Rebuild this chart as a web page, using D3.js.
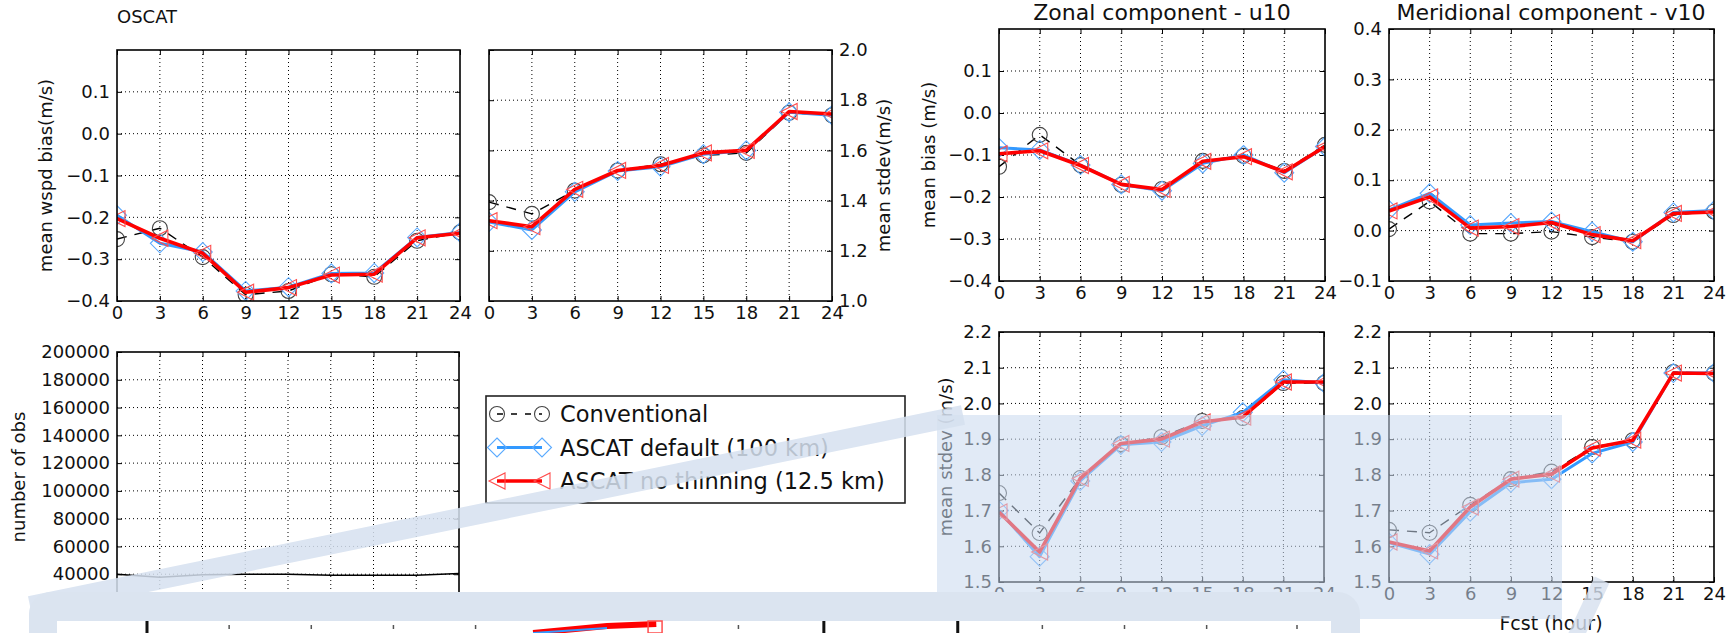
<!DOCTYPE html>
<html>
<head>
<meta charset="utf-8">
<script src="https://cdn.jsdelivr.net/npm/d3@7"></script>
<style>
  body { margin: 0; background: #fff; }
  svg { display: block; font-family: "DejaVu Sans", sans-serif; }
</style>
</head>
<body>
<div id="fig"></div>
<script>
const W = 1735, H = 633;

// forecast hours (x axis of every panel)
const hours = [0, 3, 6, 9, 12, 15, 18, 21, 24];
const seriesNames = ["Conventional", "ASCAT default (100 km)", "ASCAT no thinning (12.5 km)"];

// OSCAT wind speed
const wspdBiasConv    = [-0.252, -0.226, -0.295, -0.385, -0.376, -0.336, -0.342, -0.256, -0.236];
const wspdBiasDefault = [-0.195, -0.262, -0.283, -0.376, -0.367, -0.334, -0.333, -0.248, -0.236];
const wspdBiasNoThin  = [-0.203, -0.250, -0.286, -0.379, -0.368, -0.338, -0.336, -0.249, -0.238];
const wspdStdConv     = [1.394, 1.347, 1.440, 1.520, 1.545, 1.580, 1.590, 1.750, 1.740];
const wspdStdDefault  = [1.315, 1.283, 1.435, 1.518, 1.535, 1.585, 1.600, 1.752, 1.740];
const wspdStdNoThin   = [1.320, 1.296, 1.445, 1.520, 1.540, 1.590, 1.600, 1.755, 1.745];
const obsCount        = [40000, 37800, 39600, 40000, 40000, 39300, 39300, 39300, 40600];

// zonal component u10
const u10BiasConv    = [-0.128, -0.052, -0.124, -0.171, -0.181, -0.114, -0.102, -0.138, -0.076];
const u10BiasDefault = [-0.083, -0.088, -0.124, -0.170, -0.185, -0.120, -0.100, -0.142, -0.080];
const u10BiasNoThin  = [-0.097, -0.090, -0.125, -0.170, -0.182, -0.115, -0.104, -0.140, -0.080];
const u10StdConv     = [1.749, 1.637, 1.791, 1.886, 1.906, 1.951, 1.959, 2.057, 2.057];
const u10StdDefault  = [1.700, 1.571, 1.783, 1.884, 1.892, 1.937, 1.975, 2.066, 2.057];
const u10StdNoThin   = [1.696, 1.584, 1.790, 1.888, 1.900, 1.948, 1.962, 2.060, 2.060];

// meridional component v10
const v10BiasConv    = [0.003, 0.058, -0.006, -0.006, -0.002, -0.013, -0.022, 0.031, 0.038];
const v10BiasDefault = [0.041, 0.074, 0.011, 0.015, 0.018, -0.002, -0.022, 0.036, 0.040];
const v10BiasNoThin  = [0.039, 0.067, 0.005, 0.008, 0.016, -0.008, -0.020, 0.034, 0.037];
const v10StdConv     = [1.646, 1.638, 1.716, 1.788, 1.809, 1.878, 1.897, 2.088, 2.085];
const v10StdDefault  = [1.610, 1.578, 1.697, 1.778, 1.788, 1.860, 1.892, 2.085, 2.085];
const v10StdNoThin   = [1.612, 1.587, 1.710, 1.788, 1.802, 1.875, 1.897, 2.085, 2.084];

// tick labels
const biasTicks    = [-0.4, -0.3, -0.2, -0.1, 0.0, 0.1];
const wspdStdTicks = [1.0, 1.2, 1.4, 1.6, 1.8, 2.0];
const v10BiasTicks = [-0.1, 0.0, 0.1, 0.2, 0.3, 0.4];
const stdTicks     = [1.5, 1.6, 1.7, 1.8, 1.9, 2.0, 2.1, 2.2];
const obsTicks     = [20000, 40000, 60000, 80000, 100000, 120000, 140000, 160000, 180000, 200000];

const styles = [
  { line: "#000", width: 1.4, dash: "10,8", marker: "circle", mstroke: "#444" },
  { line: "#3399ff", width: 3, dash: null, marker: "diamond", mstroke: "#5aaaff" },
  { line: "#ff0000", width: 3.6, dash: null, marker: "tri", mstroke: "#ff4d4d" }
];

const svg = d3.select("#fig").append("svg").attr("width", W).attr("height", H);
const defs = svg.append("defs");
let clipCount = 0;
const fmt1 = d3.format(".1f");

function markerPath(kind) {
  if (kind === "diamond") return "M0,-9.5L9.5,0L0,9.5L-9.5,0Z";
  if (kind === "tri") return "M-8,0L8,-8L8,8Z";
  return null;
}

function drawMarkers(g, pts, st) {
  if (st.marker === "circle") {
    g.selectAll(null).data(pts).join("circle")
      .attr("cx", d => d[0]).attr("cy", d => d[1]).attr("r", 7.5)
      .attr("fill", "none").attr("stroke", st.mstroke).attr("stroke-width", 1.1);
  } else {
    g.selectAll(null).data(pts).join("path")
      .attr("transform", d => `translate(${d[0]},${d[1]})`)
      .attr("d", markerPath(st.marker))
      .attr("fill", "none").attr("stroke", st.mstroke).attr("stroke-width", 1.1);
  }
}

function panel(p) {
  const g = svg.append("g");
  const x = d3.scaleLinear().domain([0, 24]).range([p.x0, p.x1]);
  const y = d3.scaleLinear().domain(p.yDomain).range([p.y1, p.y0]);
  const id = "clip" + (clipCount++);
  defs.append("clipPath").attr("id", id).append("rect")
    .attr("x", p.x0).attr("y", p.y0).attr("width", p.x1 - p.x0).attr("height", p.y1 - p.y0);

  // dotted grid
  const grid = g.append("g").attr("stroke", "#000").attr("stroke-width", 1).attr("stroke-dasharray", "1,3");
  grid.selectAll(null).data(hours.slice(1, -1)).join("line")
    .attr("x1", d => x(d)).attr("x2", d => x(d)).attr("y1", p.y0).attr("y2", p.y1);
  grid.selectAll(null).data(p.yTicks.filter(v => y(v) > p.y0 + 1 && y(v) < p.y1 - 1)).join("line")
    .attr("y1", d => y(d)).attr("y2", d => y(d)).attr("x1", p.x0).attr("x2", p.x1);

  // axes, ticks pointing inward on all four sides
  const styleAxis = a => {
    a.select(".domain").remove();
    a.selectAll("line").attr("stroke", "#000").attr("stroke-width", 1);
    a.selectAll("text").attr("fill", "#111");
    a.attr("font-size", 18).attr("font-family", "DejaVu Sans, sans-serif");
  };
  g.append("g").attr("transform", `translate(0,${p.y1})`)
    .call(d3.axisBottom(x).tickValues(hours).tickSizeInner(-5).tickSizeOuter(0).tickPadding(5)
      .tickFormat(d3.format("d")))
    .call(styleAxis);
  g.append("g").attr("transform", `translate(0,${p.y0})`)
    .call(d3.axisTop(x).tickValues(hours).tickSizeInner(-5).tickSizeOuter(0).tickFormat(""))
    .call(styleAxis);
  g.append("g").attr("transform", `translate(${p.x0},0)`)
    .call(d3.axisLeft(y).tickValues(p.yTicks).tickSizeInner(-5).tickSizeOuter(0).tickPadding(7)
      .tickFormat(p.side === "left" ? p.fmt : ""))
    .call(styleAxis);
  g.append("g").attr("transform", `translate(${p.x1},0)`)
    .call(d3.axisRight(y).tickValues(p.yTicks).tickSizeInner(-5).tickSizeOuter(0).tickPadding(7)
      .tickFormat(p.side === "right" ? p.fmt : ""))
    .call(styleAxis);

  // series
  const plot = g.append("g").attr("clip-path", `url(#${id})`);
  const line = d3.line().x((d, i) => x(hours[i])).y(d => y(d));
  p.series.forEach((vals, k) => {
    const st = p.plain ? { line: "#000", width: 1.5, dash: null, marker: null } : styles[k];
    plot.append("path").datum(vals).attr("d", line)
      .attr("fill", "none").attr("stroke", st.line).attr("stroke-width", st.width)
      .attr("stroke-linejoin", "round")
      .attr("stroke-dasharray", st.dash);
    if (st.marker) drawMarkers(plot.append("g"), vals.map((v, i) => [x(hours[i]), y(v)]), st);
  });

  // frame
  g.append("rect").attr("x", p.x0).attr("y", p.y0).attr("width", p.x1 - p.x0).attr("height", p.y1 - p.y0)
    .attr("fill", "none").attr("stroke", "#000").attr("stroke-width", 1.6);

  if (p.ylabel) {
    g.append("text")
      .attr("transform", `translate(${p.ylabelX},${(p.y0 + p.y1) / 2}) rotate(-90)`)
      .attr("text-anchor", "middle").attr("dominant-baseline", "central")
      .attr("font-size", 18).attr("fill", "#111").text(p.ylabel);
  }
  return g;
}

panel({ x0: 117, x1: 460, y0: 50, y1: 301, yDomain: [-0.4, 0.2], yTicks: biasTicks, fmt: fmt1, side: "left",
  series: [wspdBiasConv, wspdBiasDefault, wspdBiasNoThin], ylabel: "mean wspd bias(m/s)", ylabelX: 45 });
panel({ x0: 489, x1: 832, y0: 50, y1: 301, yDomain: [1.0, 2.0], yTicks: wspdStdTicks, fmt: fmt1, side: "right",
  series: [wspdStdConv, wspdStdDefault, wspdStdNoThin], ylabel: "mean stdev(m/s)", ylabelX: 883 });
panel({ x0: 117, x1: 459, y0: 352, y1: 602, yDomain: [20000, 200000], yTicks: obsTicks, fmt: d3.format("d"), side: "left",
  series: [obsCount], plain: true, ylabel: "number of obs", ylabelX: 18 });
panel({ x0: 999, x1: 1325, y0: 29, y1: 281, yDomain: [-0.4, 0.2], yTicks: biasTicks, fmt: fmt1, side: "left",
  series: [u10BiasConv, u10BiasDefault, u10BiasNoThin], ylabel: "mean bias (m/s)", ylabelX: 928 });
panel({ x0: 1389, x1: 1714, y0: 29, y1: 281, yDomain: [-0.1, 0.4], yTicks: v10BiasTicks, fmt: fmt1, side: "left",
  series: [v10BiasConv, v10BiasDefault, v10BiasNoThin] });
panel({ x0: 999, x1: 1324, y0: 332, y1: 582, yDomain: [1.5, 2.2], yTicks: stdTicks, fmt: fmt1, side: "left",
  series: [u10StdConv, u10StdDefault, u10StdNoThin], ylabel: "mean stdev (m/s)", ylabelX: 945 });
panel({ x0: 1389, x1: 1714, y0: 332, y1: 582, yDomain: [1.5, 2.2], yTicks: stdTicks, fmt: fmt1, side: "left",
  series: [v10StdConv, v10StdDefault, v10StdNoThin] });

// titles
svg.append("text").attr("x", 117).attr("y", 23).attr("font-size", 18).attr("fill", "#111").text("OSCAT");
svg.append("text").attr("x", 1162).attr("y", 20).attr("text-anchor", "middle").attr("font-size", 22)
  .attr("fill", "#111").text("Zonal component - u10");
svg.append("text").attr("x", 1551).attr("y", 20).attr("text-anchor", "middle").attr("font-size", 22)
  .attr("fill", "#111").text("Meridional component - v10");
svg.append("text").attr("x", 1551).attr("y", 630).attr("text-anchor", "middle").attr("font-size", 19)
  .attr("fill", "#111").text("Fcst (hour)");

// legend
const leg = svg.append("g");
leg.append("rect").attr("x", 486).attr("y", 396).attr("width", 419).attr("height", 107)
  .attr("fill", "#fff").attr("stroke", "#222").attr("stroke-width", 1.6);
const legRow = d3.scalePoint().domain(seriesNames).range([414, 481]);
seriesNames.forEach((name, k) => {
  const st = styles[k], yy = legRow(name);
  const r = leg.append("g");
  r.append("line").attr("x1", 497).attr("x2", 542).attr("y1", yy).attr("y2", yy)
    .attr("stroke", st.line).attr("stroke-width", st.width).attr("stroke-dasharray", k === 0 ? "6,8" : null);
  drawMarkers(r, [[497, yy], [542, yy]], st);
  r.append("text").attr("x", 560).attr("y", yy).attr("dominant-baseline", "central")
    .attr("font-size", 22.5).attr("fill", "#111").text(name);
});

// callout overlay on top of the figure
const over = svg.append("g");
over.append("rect").attr("x", 937).attr("y", 415).attr("width", 625).attr("height", 204)
  .attr("fill", "rgb(200,216,238)").attr("opacity", 0.55);
over.append("line").attr("x1", 30).attr("y1", 606).attr("x2", 963).attr("y2", 415)
  .attr("stroke", "rgb(214,225,240)").attr("stroke-width", 20).attr("opacity", 0.85);
over.append("line").attr("x1", 1602).attr("y1", 580).attr("x2", 1574).attr("y2", 640)
  .attr("stroke", "rgb(214,225,240)").attr("stroke-width", 16).attr("opacity", 0.8);
over.append("rect").attr("x", 29).attr("y", 592).attr("width", 1331).attr("height", 120).attr("rx", 22)
  .attr("fill", "rgb(219,228,240)");
over.append("rect").attr("x", 57).attr("y", 621).attr("width", 1274).attr("height", 40).attr("fill", "#fff");

// peek of the figure underneath the callout box
const peek = over.append("g");
const peekX = d3.scaleLinear().domain([0, 14]).range([147, 1297]);
peek.selectAll(null).data([0, 8.24, 9.87]).join("line")
  .attr("x1", d => peekX(d)).attr("x2", d => peekX(d)).attr("y1", 621).attr("y2", 633)
  .attr("stroke", "#111").attr("stroke-width", 3);
peek.selectAll(null).data([1, 2, 3, 4, 7.2, 10.9, 11.9, 12.9, 14]).join("line")
  .attr("x1", d => peekX(d)).attr("x2", d => peekX(d)).attr("y1", 625).attr("y2", 629)
  .attr("stroke", "#555").attr("stroke-width", 1.5);
peek.append("path").attr("d", `M${peekX(4.7)},633L${peekX(5.6)},626L${peekX(6.2)},624`)
  .attr("fill", "none").attr("stroke", "#ff0000").attr("stroke-width", 6);
peek.append("path").attr("d", `M${peekX(4.7)},633L${peekX(5.6)},628`)
  .attr("fill", "none").attr("stroke", "#3399ff").attr("stroke-width", 2);
peek.append("rect").attr("x", peekX(6.1)).attr("y", 621).attr("width", 14).attr("height", 12)
  .attr("fill", "none").attr("stroke", "#ff4d4d").attr("stroke-width", 1.5);
</script>
</body>
</html>
